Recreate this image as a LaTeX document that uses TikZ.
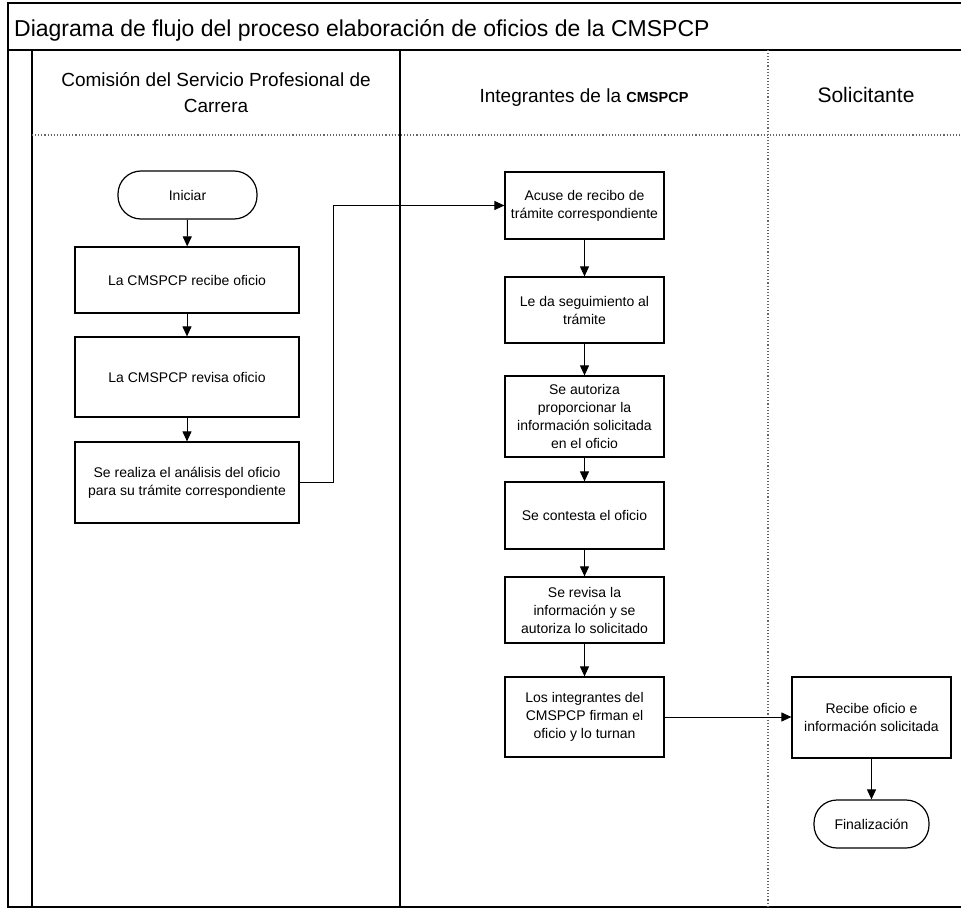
\documentclass[tikz,border=0pt]{standalone}
\usepackage{fontspec}
\setmainfont{Liberation Sans}
\usepackage{xcolor}
\usepackage{tikz}
\usetikzlibrary{arrows.meta,positioning,calc}

\begin{document}
\begin{tikzpicture}[
            x=1pt, y=-1pt,
            >={Triangle[length=10pt,width=9pt]},
            startstop/.style={rectangle, rounded corners=23pt, draw=black, line width=1.2pt, fill=white, align=center, minimum width=139pt, minimum height=48pt, inner sep=1pt, font=\fontsize{14}{18}\selectfont},
            process/.style={rectangle, draw=black, line width=1.2pt, fill=white, align=center, minimum width=159pt, inner sep=1pt, font=\fontsize{14}{18}\selectfont},
            wideproc/.style={process, minimum width=224pt},
            lanehead/.style={align=center, inner sep=0pt, font=\fontsize{19}{26}\selectfont},
            arrow/.style={->, line width=1pt},
            frameline/.style={line width=1.5pt},
            laneline/.style={line width=1.1pt},
            lanedots/.style={line width=1.1pt, draw=black!60, dotted}
        ]
        \useasboundingbox (0,0) rectangle (961,909);

        % marco y carriles
        \draw[frameline] (961,3) -- (8,3) -- (8,907) -- (961,907);
        \draw[frameline] (8,50) -- (961,50);
        \draw[laneline] (32,50) -- (32,907);
        \draw[laneline] (400,50) -- (400,907);
        \draw[lanedots] (768,50) -- (768,907);
        \draw[lanedots] (32,135) -- (961,135);

        \node[anchor=base west, inner sep=0pt, font=\fontsize{23}{28}\selectfont] (title) at (14,37) {Diagrama de flujo del proceso elaboración de oficios de la CMSPCP};
        \node[lanehead] (hcomision) at (216,93) {Comisión del Servicio Profesional de\\Carrera};
        \node[lanehead, anchor=base] (hintegr) at (584,103) {Integrantes de la {\fontsize{14.5}{18}\selectfont\bfseries CMSPCP}};
        \node[lanehead, anchor=base, font=\fontsize{21}{26}\selectfont] (hsolic) at (866,103) {Solicitante};

        % Comision
        \node[startstop] (start) at (187.5,195) {Iniciar};
        \node[wideproc, minimum height=66pt] (recibe) at (187,280) {La CMSPCP recibe oficio};
        \node[wideproc, minimum height=80pt] (revisa) at (187,377) {La CMSPCP revisa oficio};
        \node[wideproc, minimum height=81pt] (realiza) at (187,482.5) {Se realiza el análisis del oficio\\para su trámite correspondiente};

        % Integrantes
        \node[process, minimum height=67pt] (acuse) at (584.5,205.5) {Acuse de recibo de\\trámite correspondiente};
        \node[process, minimum height=66pt] (seguim) at (584.5,310) {Le da seguimiento al\\trámite};
        \node[process, minimum height=81pt] (autoriza) at (584.5,416.5) {Se autoriza\\proporcionar la\\información solicitada\\en el oficio};
        \node[process, minimum height=67pt] (contesta) at (584.5,515.5) {Se contesta el oficio};
        \node[process, minimum height=66pt] (revinfo) at (584.5,610) {Se revisa la\\información y se\\autoriza lo solicitado};
        \node[process, minimum height=80pt] (firman) at (584.5,717) {Los integrantes del\\CMSPCP firman el\\oficio y lo turnan};

        % Solicitante
        \node[process, minimum height=81pt] (recsol) at (871.5,717.5) {Recibe oficio e\\información solicitada};
        \node[startstop, minimum width=115pt] (end) at (871.5,824) {Finalización};

        \coordinate (bend) at (333,0);

        \draw[arrow] (start) -- (recibe);
        \draw[arrow] (recibe) -- (revisa);
        \draw[arrow] (revisa) -- (realiza);
        \draw[arrow] (realiza.east) -- (realiza.east -| bend) |- (acuse.west);
        \draw[arrow] (acuse) -- (seguim);
        \draw[arrow] (seguim) -- (autoriza);
        \draw[arrow] (autoriza) -- (contesta);
        \draw[arrow] (contesta) -- (revinfo);
        \draw[arrow] (revinfo) -- (firman);
        \draw[arrow] (firman.east) -- (firman.east -| recsol.west);
        \draw[arrow] (recsol) -- (end);
    \end{tikzpicture}
\end{document}
